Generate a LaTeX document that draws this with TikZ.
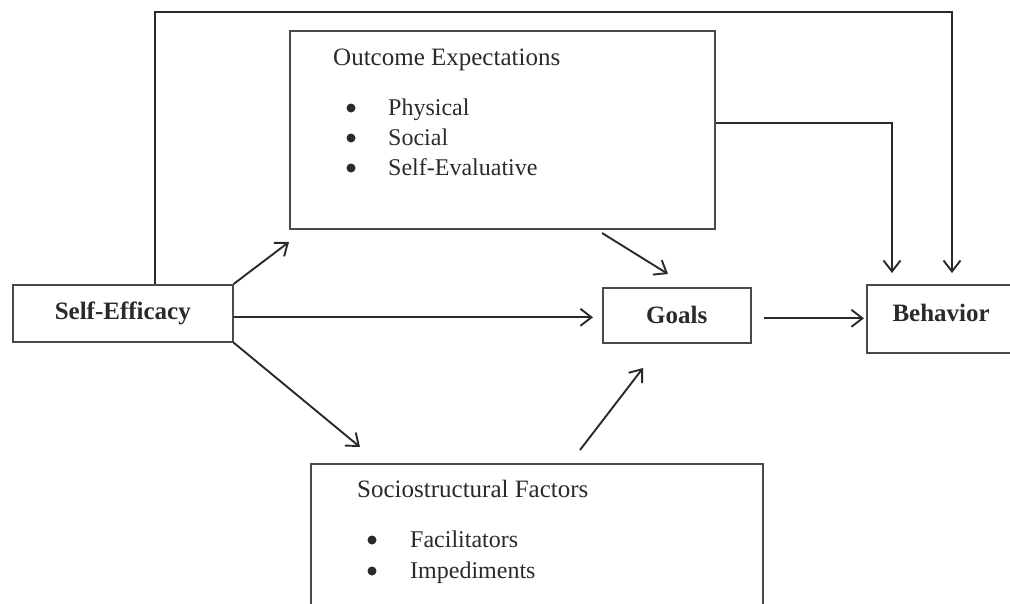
\documentclass[tikz,border=0pt]{standalone}
\usepackage{fontspec}
\setmainfont{Liberation Serif}
\usetikzlibrary{arrows.meta,calc}
\definecolor{ink}{HTML}{2A2A2A}
\definecolor{frame}{HTML}{4A4A4A}
\tikzset{
  box/.style={draw=frame,line width=1.6pt,rectangle,inner sep=0pt,anchor=north west},
  label/.style={text=ink,font=\fontsize{25}{30}\selectfont\bfseries},
  head/.style={text=ink,font=\fontsize{25}{30}\selectfont,anchor=base west,inner sep=0pt},
  item/.style={text=ink,font=\fontsize{24}{28}\selectfont,anchor=base west,inner sep=0pt},
  dot/.style={circle,fill=ink,inner sep=0pt,minimum size=9pt},
  arr/.style={draw=ink,line width=1.9pt,-{Straight Barb[length=11pt,width=17pt,line width=1.9pt]}},
  link/.style={draw=ink,line width=1.9pt}
}
\begin{document}
\begin{tikzpicture}[x=1pt,y=-1pt]
\useasboundingbox (0,0) rectangle (1010,603);
\clip (0,0) rectangle (1010,603);

% boxes
\node[box,minimum width=220pt,minimum height=57pt] (se) at (12,284) {};
\node[label] at (se.center) {Self-Efficacy};
\node[box,minimum width=148pt,minimum height=55pt] (goals) at (602,287) {};
\node[label] at (goals.center) {Goals};
\node[box,minimum width=170pt,minimum height=68pt] (beh) at (866,284) {};
\node[label,anchor=west] at ($(beh.west)+(23,-6)$) {Behavior};
\node[box,minimum width=425pt,minimum height=198pt] (oe) at (289,30) {};
\node[box,minimum width=452pt,minimum height=170pt] (sf) at (310,463) {};

% outcome expectations text
\node[head] (oeh) at (333,65) {Outcome Expectations};
\node[dot] (b1) at (351,108) {};
\node[dot] (b2) at (351,138) {};
\node[dot] (b3) at (351,168) {};
\node[item] at (388,115) {Physical};
\node[item] at (388,145) {Social};
\node[item] at (388,175) {Self-Evaluative};

% sociostructural factors text
\node[head] (sfh) at (357,497) {Sociostructural Factors};
\node[dot] (b4) at (372,540) {};
\node[dot] (b5) at (372,571) {};
\node[item] at (410,547) {Facilitators};
\node[item] at (410,578) {Impediments};

% free arrow ends
\coordinate (oeIn) at (289,242);
\coordinate (sfIn) at (360,447);
\coordinate (oeOut) at (602,233);
\coordinate (goalsTop) at (668,274);
\coordinate (sfOut) at (580,450);
\coordinate (goalsBot) at (643,368);
\coordinate (topRun) at (155,12);
\coordinate (behA) at (892,273);
\coordinate (behB) at (952,273);

% connectors
\draw[arr] (se.north east) -- (oeIn);
\draw[arr,shorten >=9pt] ($(se.east)+(0,4)$) coordinate (s0) -- (s0 -| goals.west);
\draw[arr] (se.south east) -- (sfIn);
\draw[arr] (oeOut) -- (goalsTop);
\draw[arr] (sfOut) -- (goalsBot);
\draw[arr,shorten >=2pt] ($(goals.east)+(12,3)$) coordinate (g0) -- (g0 -| beh.west);
\draw[arr] ($(oe.north east)+(0,93)$) -| (behA);
\draw[arr] (se.north west -| topRun) |- (topRun -| behB) -- (behB);
\end{tikzpicture}
\end{document}
